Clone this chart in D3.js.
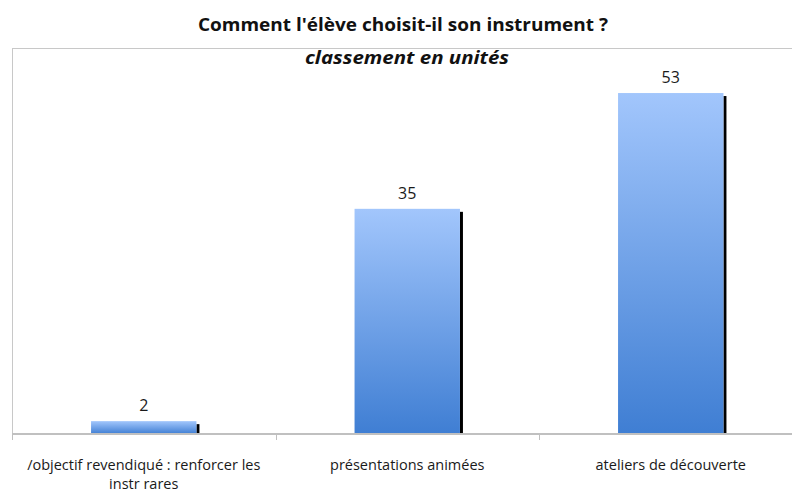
<!DOCTYPE html>
<html><head><meta charset="utf-8">
<script src="https://cdn.jsdelivr.net/npm/d3@7"></script>
<style>body{margin:0;background:#fff}svg{display:block}</style>
</head><body>
<svg id="c" width="792" height="494"></svg>
<script>
const categories = ["/objectif revendiqué : renforcer les|instr rares", "présentations animées", "ateliers de découverte"];
const values = [2, 35, 53];
const yTicks = [0, 60];
const title = "Comment l'élève choisit-il son instrument ?";
const subtitle = "classement en unités";

const svg = d3.select("#c");
const font = "'Open Sans', sans-serif";
const m = {left: 12, top: 48, bottom: 434};
const x = d3.scaleBand().domain(categories).range([m.left, m.left + 3 * 263.5]).paddingInner(0.6).paddingOuter(0.3);
const y = d3.scaleLinear().domain([0, 60]).range([m.bottom, m.top]);

const defs = svg.append("defs");
const g = defs.append("linearGradient").attr("id", "bg").attr("x1", 0).attr("y1", 0).attr("x2", 0).attr("y2", 1);
g.append("stop").attr("offset", "0%").attr("stop-color", "#a2c6fc");
g.append("stop").attr("offset", "100%").attr("stop-color", "#3f7ed3");

// frame
svg.append("line").attr("x1", m.left).attr("x2", 792).attr("y1", m.top + 0.5).attr("y2", m.top + 0.5).attr("stroke", "#c8c8c8");
svg.append("line").attr("x1", m.left + 0.5).attr("x2", m.left + 0.5).attr("y1", m.top).attr("y2", m.bottom).attr("stroke", "#c8c8c8");

// shadows
svg.selectAll(".sh").data(values).join("rect")
  .attr("x", (d, i) => x(categories[i]) + x.bandwidth())
  .attr("width", 3)
  .attr("y", d => y(d) + 3)
  .attr("height", d => m.bottom - y(d) - 3)
  .attr("fill", "#000");
svg.selectAll(".bar").data(values).join("rect")
  .attr("x", (d, i) => x(categories[i]))
  .attr("width", x.bandwidth())
  .attr("y", d => y(d))
  .attr("height", d => m.bottom - y(d))
  .attr("fill", "url(#bg)");

// x axis
const xa = svg.append("g").attr("transform", `translate(0,${m.bottom})`)
  .call(d3.axisBottom(x).tickSize(0).tickFormat(""));
xa.select(".domain").attr("stroke", "#c0c0c0").attr("stroke-width", 2).attr("d", `M${m.left},0H792`);
const step = x.step();
const bounds = [0, 1, 2].map(i => m.left + i * step);
svg.selectAll(".tk").data(bounds).join("line")
  .attr("x1", d => Math.round(d) + 0.5).attr("x2", d => Math.round(d) + 0.5)
  .attr("y1", m.bottom).attr("y2", m.bottom + 6).attr("stroke", "#c0c0c0");

// category labels
categories.forEach(c => {
  const lines = c.split("|");
  const t = svg.append("text").attr("x", x(c) + x.bandwidth() / 2).attr("y", 470)
    .attr("text-anchor", "middle").attr("font-family", font).attr("font-size", 14.5).attr("fill", "#1a1a1a");
  lines.forEach((l, i) => t.append("tspan").attr("x", x(c) + x.bandwidth() / 2).attr("dy", i ? 19 : 0).text(l));
});

// value labels
svg.selectAll(".vl").data(values).join("text")
  .attr("x", (d, i) => x(categories[i]) + x.bandwidth() / 2)
  .attr("y", d => y(d) - 10)
  .attr("text-anchor", "middle").attr("font-family", font).attr("font-size", 16).attr("fill", "#1a1a1a")
  .text(d => d);

// titles
svg.append("text").attr("x", 403).attr("y", 31).attr("text-anchor", "middle")
  .attr("font-family", font).attr("font-weight", "bold").attr("font-size", 17).attr("fill", "#111")
  .attr("textLength", 410).attr("lengthAdjust", "spacingAndGlyphs").text(title);
svg.append("text").attr("x", 407).attr("y", 64).attr("text-anchor", "middle")
  .attr("font-family", font).attr("font-weight", "bold").attr("font-style", "italic").attr("font-size", 17).attr("fill", "#111")
  .attr("textLength", 204).attr("lengthAdjust", "spacingAndGlyphs").text(subtitle);
</script>
</body></html>
